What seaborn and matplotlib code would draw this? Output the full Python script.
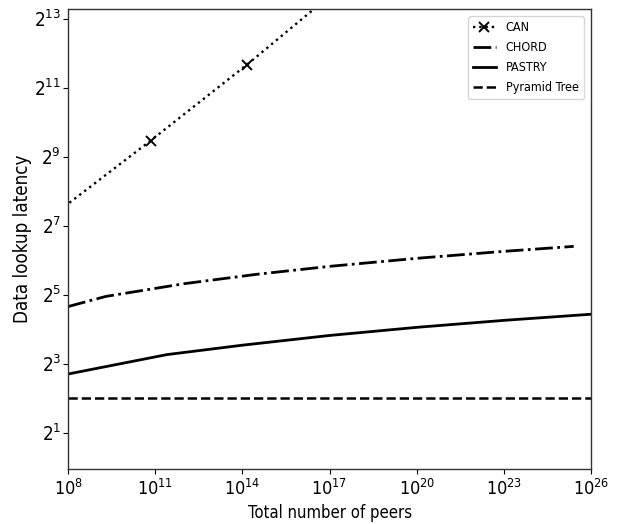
import matplotlib
matplotlib.use("Agg")
import matplotlib.pyplot as plt
import matplotlib.ticker as mticker
import seaborn as sns

# Data
can_x = [10**7.53, 10**10.84, 10**14.15, 10**17.46]
can_y = [161, 706, 3237, 16100]

chord_x = [1e8, 10**9.3, 10**12, 10**14.5, 10**17, 10**20, 10**23, 10**25.4]
chord_y = [25.2, 30.9, 39.9, 48.2, 56.5, 66.4, 76.4, 84.4]

pastry_x = [1e8, 10**11.4, 10**14, 10**17, 10**20, 10**23, 1e26]
pastry_y = [6.5, 9.6, 11.6, 14.1, 16.6, 19.1, 21.6]

pyramid_x = [1e8, 1e26]
pyramid_y = [4, 4]

xticks = [1e8, 1e11, 1e14, 1e17, 1e20, 1e23, 1e26]
xtick_labels = [r"$10^{8}$", r"$10^{11}$", r"$10^{14}$", r"$10^{17}$",
                r"$10^{20}$", r"$10^{23}$", r"$10^{26}$"]
yticks = [2, 8, 32, 128, 512, 2048, 8192]
ytick_labels = [r"$2^{1}$", r"$2^{3}$", r"$2^{5}$", r"$2^{7}$",
                r"$2^{9}$", r"$2^{11}$", r"$2^{13}$"]

plt.rcParams['font.family'] = ['DejaVu Sans']
plt.rcParams['font.stretch'] = 'condensed'
plt.rcParams['mathtext.fontset'] = 'custom'
plt.rcParams['mathtext.rm'] = 'DejaVu Sans:stretch=condensed'
plt.rcParams['mathtext.it'] = 'DejaVu Sans:italic:stretch=condensed'
plt.rcParams['axes.edgecolor'] = '#333333'
plt.rcParams['axes.linewidth'] = 1.0

fig = plt.figure(figsize=(6.19, 5.24), dpi=100)
ax = fig.add_axes([0.110, 0.105, 0.845, 0.878])

sns.lineplot(x=can_x, y=can_y, ax=ax, color='black', linestyle=':', linewidth=1.7,
             marker='x', markersize=7, markeredgewidth=1.4, markeredgecolor='black',
             label='CAN', sort=False)
sns.lineplot(x=chord_x, y=chord_y, ax=ax, color='black', linestyle='-.', linewidth=2,
             label='CHORD', sort=False)
sns.lineplot(x=pastry_x, y=pastry_y, ax=ax, color='black', linestyle='-', linewidth=2,
             label='PASTRY', sort=False)
sns.lineplot(x=pyramid_x, y=pyramid_y, ax=ax, color='black', linestyle='--', linewidth=1.8,
             label='Pyramid Tree', sort=False)

ax.set_xscale('log')
ax.set_yscale('log', base=2)
ax.set_xlim(1e8, 1e26)
ax.set_ylim(0.965, 9950)
ax.set_xticks(xticks)
ax.set_xticklabels(xtick_labels)
ax.set_yticks(yticks)
ax.set_yticklabels(ytick_labels)
ax.xaxis.set_minor_locator(mticker.NullLocator())
ax.yaxis.set_minor_locator(mticker.NullLocator())
ax.tick_params(axis='x', labelsize=13, pad=4)
ax.tick_params(axis='y', labelsize=13.5, pad=1.5)

ax.set_xlabel('Total number of peers', fontsize=12, labelpad=3)
ax.set_ylabel('Data lookup latency', fontsize=13.5, labelpad=1.5)

ax.legend(loc='upper right', fontsize=9, handlelength=1.8, labelspacing=0.55,
          borderaxespad=0.6)

fig.savefig('out.png', dpi=100)
